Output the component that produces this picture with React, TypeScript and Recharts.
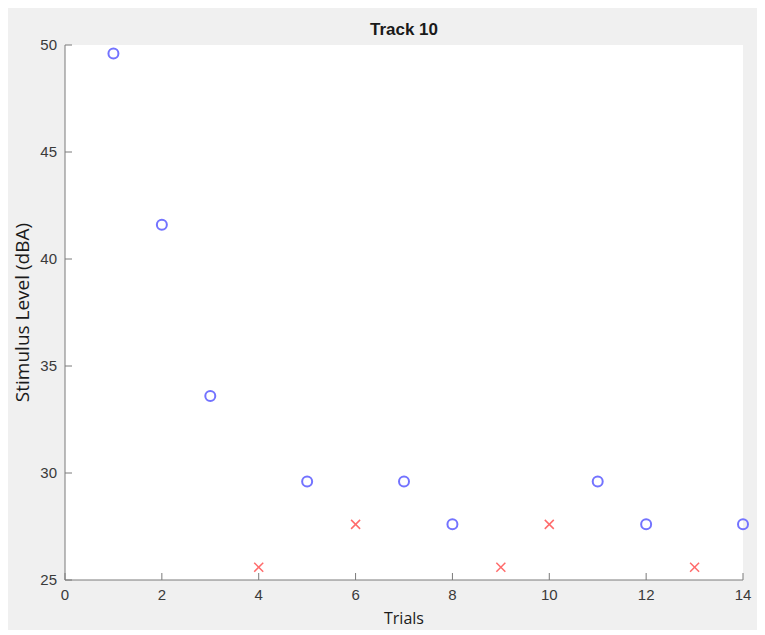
import { ScatterChart, Scatter, XAxis, YAxis, CartesianGrid } from 'recharts'

// trials answered correctly (circles) and missed (crosses)
const circleTrials = [1, 2, 3, 5, 7, 8, 11, 12, 14]
const circleLevels = [49.6, 41.6, 33.6, 29.6, 29.6, 27.6, 29.6, 27.6, 27.6]
const crossTrials = [4, 6, 9, 10, 13]
const crossLevels = [25.6, 27.6, 25.6, 27.6, 25.6]

const xTicks = [0, 2, 4, 6, 8, 10, 12, 14]
const yTicks = [25, 30, 35, 40, 45, 50]

const circleData = circleTrials.map((t, i) => ({ trial: t, level: circleLevels[i] }))
const crossData = crossTrials.map((t, i) => ({ trial: t, level: crossLevels[i] }))

const axisColor = '#7a7a7a'
const tickFont = { fontSize: 15, fill: '#3a3a3a', fontFamily: 'Liberation Sans, Arial, sans-serif' }

const Circle = (props: any) => (
  <circle cx={props.cx} cy={props.cy} r={5} fill="none" stroke="#7373ff" strokeWidth={2} />
)

const Cross = (props: any) => {
  const { cx, cy } = props
  const s = 4.5
  return (
    <g stroke="#ff6b6b" strokeWidth={1.5}>
      <line x1={cx - s} y1={cy - s} x2={cx + s} y2={cy + s} />
      <line x1={cx - s} y1={cy + s} x2={cx + s} y2={cy - s} />
    </g>
  )
}

export default function App() {
  return (
    <div style={{ position: 'relative', width: 757, height: 622, background: '#f0f0f0' }}>
      <div
        style={{
          position: 'absolute',
          left: 57,
          width: 678,
          top: 12,
          textAlign: 'center',
          fontFamily: 'Liberation Sans, Arial, sans-serif',
          fontWeight: 'bold',
          fontSize: 17,
          color: '#1a1a1a',
        }}
      >
        Track 10
      </div>
      <ScatterChart width={757} height={622} margin={{ top: 37, right: 22, bottom: 0, left: 0 }}>
        <CartesianGrid fill="#ffffff" stroke="none" horizontal={false} vertical={false} />
        <XAxis
          type="number"
          dataKey="trial"
          domain={[0, 14]}
          ticks={xTicks}
          height={50}
          stroke={axisColor}
          tickSize={-7}
          tickMargin={16}
          tick={tickFont}
          label={{
            value: 'Trials',
            position: 'insideBottom',
            offset: 6,
            style: { fontSize: 16, fill: '#1a1a1a', fontFamily: 'Open Sans, sans-serif' },
          }}
        />
        <YAxis
          type="number"
          dataKey="level"
          domain={[25, 50]}
          ticks={yTicks}
          width={57}
          stroke={axisColor}
          tickSize={-7}
          tickMargin={15}
          tick={tickFont}
          label={{
            value: 'Stimulus Level (dBA)',
            angle: -90,
            position: 'insideLeft',
            offset: 14,
            style: { textAnchor: 'middle', fontSize: 19, fill: '#1a1a1a', fontFamily: 'Open Sans, sans-serif' },
          }}
        />
        <Scatter data={circleData} shape={Circle} isAnimationActive={false} />
        <Scatter data={crossData} shape={Cross} isAnimationActive={false} />
      </ScatterChart>
    </div>
  )
}
